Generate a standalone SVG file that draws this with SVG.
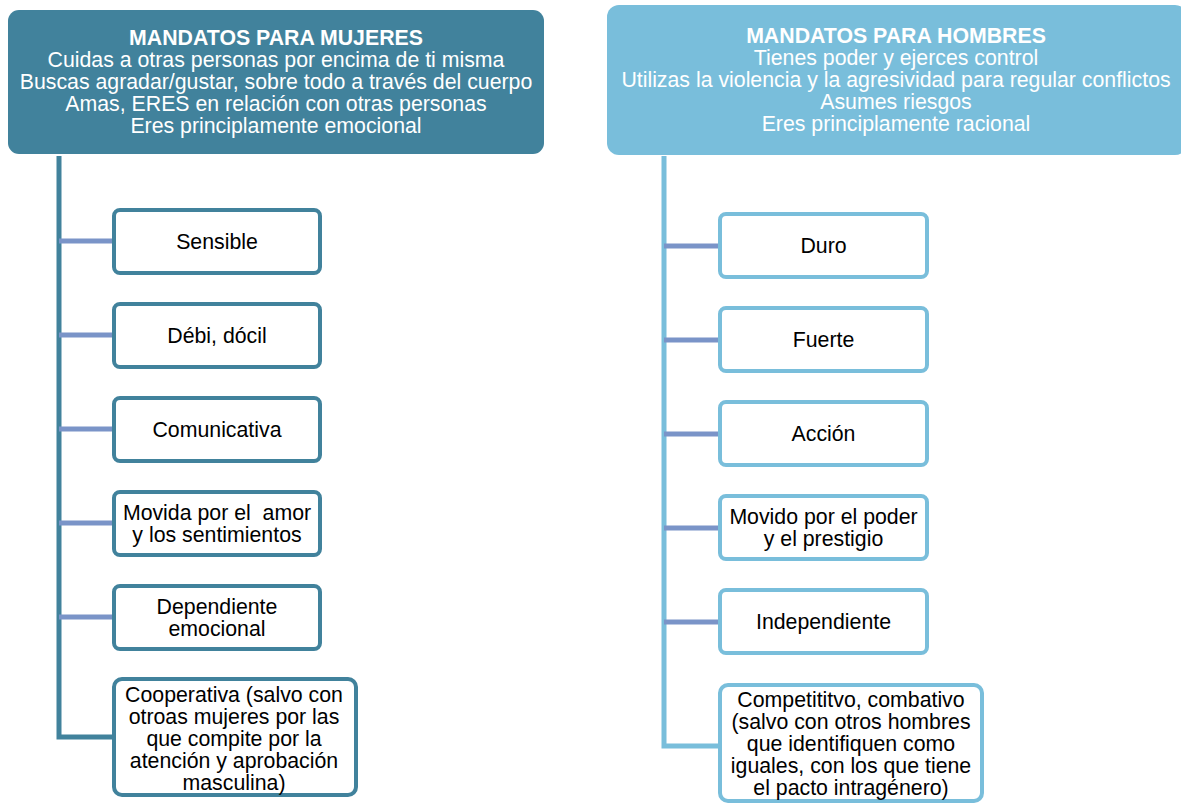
<svg xmlns="http://www.w3.org/2000/svg" width="1181" height="804" viewBox="0 0 1181 804">
<style>
text{font-family:"Liberation Sans",Arial,sans-serif;font-size:21.3px;text-anchor:middle}
.h{fill:#ffffff}
.b{font-weight:bold}
.t{fill:#000000}
.bl{fill:#ffffff;stroke:#41829c;stroke-width:4}
.br{fill:#ffffff;stroke:#79bedb;stroke-width:4}
.vl{fill:none;stroke:#41829c;stroke-width:5}
.vr{fill:none;stroke:#79bedb;stroke-width:5}
.c{fill:none;stroke:#7a94c8;stroke-width:5}
</style>
<rect width="1181" height="804" fill="#ffffff"/>
<g id="connectors">
<path class="vl" d="M59,156 V737 H114"/>
<path class="c" d="M59,241 H114 M59,335 H114 M59,429 H114 M59,523 H114 M59,617 H114"/>
<path class="vr" d="M664,156 V746 H720"/>
<path class="c" d="M664,246 H720 M664,340 H720 M664,434 H720 M664,528 H720 M664,622 H720"/>
</g>
<g id="header-mujeres">
<rect x="8" y="10" width="536" height="144" rx="11" fill="#41829c"/>
<text class="h b" x="276" y="44.5">MANDATOS PARA MUJERES</text>
<text class="h" x="276" y="66.5">Cuidas a otras personas por encima de ti misma</text>
<text class="h" x="276" y="88.5">Buscas agradar/gustar, sobre todo a través del cuerpo</text>
<text class="h" x="276" y="110.5">Amas, ERES en relación con otras personas</text>
<text class="h" x="276" y="132.5">Eres principlamente emocional</text>
</g>
<g id="header-hombres">
<rect x="607" y="5" width="580" height="150" rx="12" fill="#79bedb"/>
<text class="h b" x="896" y="42.5">MANDATOS PARA HOMBRES</text>
<text class="h" x="896" y="64.5">Tienes poder y ejerces control</text>
<text class="h" x="896" y="87">Utilizas la violencia y la agresividad para regular conflictos</text>
<text class="h" x="896" y="109">Asumes riesgos</text>
<text class="h" x="896" y="131">Eres principlamente racional</text>
</g>
<g id="m1"><rect class="bl" x="114" y="210" width="206" height="63" rx="6"/><text class="t" x="217" y="248.5">Sensible</text></g>
<g id="m2"><rect class="bl" x="114" y="304" width="206" height="63" rx="6"/><text class="t" x="217" y="342.5">Débi, dócil</text></g>
<g id="m3"><rect class="bl" x="114" y="398" width="206" height="63" rx="6"/><text class="t" x="217" y="436.5">Comunicativa</text></g>
<g id="m4"><rect class="bl" x="114" y="492" width="206" height="63" rx="6"/><text class="t" x="217" y="519.5" xml:space="preserve">Movida por el  amor</text><text class="t" x="217" y="541.5">y los sentimientos</text></g>
<g id="m5"><rect class="bl" x="114" y="586" width="206" height="63" rx="6"/><text class="t" x="217" y="613.5">Dependiente</text><text class="t" x="217" y="635.5">emocional</text></g>
<g id="m6"><rect class="bl" x="114" y="679" width="242" height="116" rx="8"/><text class="t" x="234" y="702">Cooperativa (salvo con</text><text class="t" x="234" y="724">otroas mujeres por las</text><text class="t" x="234" y="746">que compite por la</text><text class="t" x="234" y="768">atención y aprobación</text><text class="t" x="234" y="790">masculina)</text></g>
<g id="h1"><rect class="br" x="720" y="214" width="207" height="63" rx="6"/><text class="t" x="823.5" y="252.5">Duro</text></g>
<g id="h2"><rect class="br" x="720" y="308" width="207" height="63" rx="6"/><text class="t" x="823.5" y="346.5">Fuerte</text></g>
<g id="h3"><rect class="br" x="720" y="402" width="207" height="63" rx="6"/><text class="t" x="823.5" y="440.5">Acción</text></g>
<g id="h4"><rect class="br" x="720" y="496" width="207" height="63" rx="6"/><text class="t" x="823.5" y="524">Movido por el poder</text><text class="t" x="823.5" y="546">y el prestigio</text></g>
<g id="h5"><rect class="br" x="720" y="590" width="207" height="63" rx="6"/><text class="t" x="823.5" y="628.5">Independiente</text></g>
<g id="h6"><rect class="br" x="720" y="685" width="262" height="116" rx="8"/><text class="t" x="851" y="707">Competititvo, combativo</text><text class="t" x="851" y="729">(salvo con otros hombres</text><text class="t" x="851" y="751">que identifiquen como</text><text class="t" x="851" y="773">iguales, con los que tiene</text><text class="t" x="851" y="795">el pacto intragénero)</text></g>
</svg>
